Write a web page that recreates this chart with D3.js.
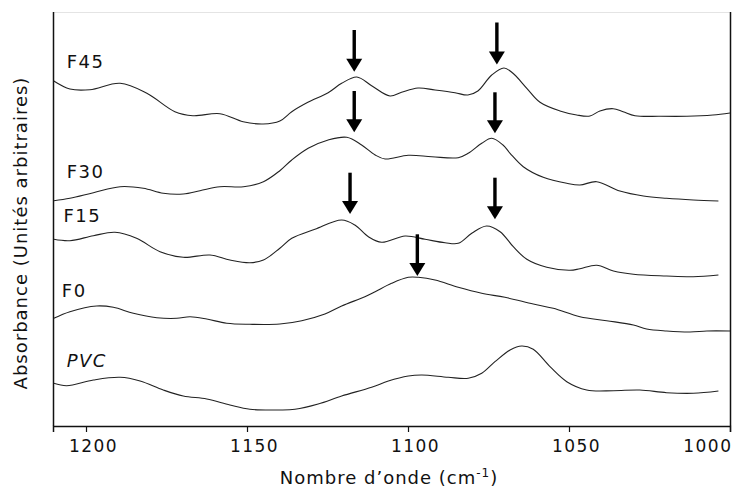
<!DOCTYPE html>
<html>
<head>
<meta charset="utf-8">
<script src="https://cdn.jsdelivr.net/npm/d3@7"></script>
<style>
  html, body { margin: 0; padding: 0; background: #fff; }
  svg { display: block; }
  text { font-family: "DejaVu Sans", sans-serif; fill: #111; }
</style>
</head>
<body>
<svg id="chart" width="736" height="491"></svg>
<script>
// FTIR spectra, stacked with vertical offsets (absorbance in arbitrary units)
const seriesNames = ["F45", "F30", "F15", "F0", "PVC"];

const wnF45 = [1210, 1205, 1198.8, 1189.4, 1181.1, 1172.4, 1166.8, 1158.4, 1151.2, 1145, 1139.8, 1136.1, 1131.1, 1124.8, 1120.6, 1115.9, 1111.3, 1105.6, 1102, 1096.9, 1091.6, 1085.4, 1081.4, 1078.3, 1074, 1070.2, 1067.4, 1063.1, 1059, 1052.8, 1047.6, 1043.5, 1040.4, 1036.3, 1033.2, 1029.5, 1021.7, 1013.4, 1005.3, 1000];
const absF45 = [345, 337, 336.3, 342.7, 332.7, 314.3, 310.3, 312.3, 304.3, 302, 305, 314.3, 323.7, 333.3, 342.7, 349, 340.3, 330, 333.7, 338, 336, 333.3, 331, 335, 351, 358, 352.7, 337.7, 323.7, 315, 311, 310, 315, 317.3, 314.3, 310.3, 309.7, 309.7, 311, 313];

const wnF30 = [1210, 1205, 1197.7, 1189.4, 1182.2, 1176, 1169.8, 1164.6, 1158.4, 1151.1, 1144.9, 1139.8, 1136.1, 1131, 1124.8, 1119, 1114.4, 1110.2, 1107.1, 1099.9, 1092.6, 1084.4, 1081.3, 1077.1, 1074, 1070.5, 1068.3, 1064.2, 1058, 1050.7, 1046.6, 1041.4, 1034.2, 1026.9, 1019.7, 1011.4, 1003.6];
const absF30 = [225.3, 227.7, 233.3, 239.3, 237.7, 232.7, 232, 235.3, 239.3, 239.3, 244.3, 255.3, 266, 277.7, 286, 288.7, 281, 271, 267, 270.7, 269.3, 268.3, 272.7, 282.7, 287.7, 281, 272.7, 259.3, 248.7, 242.7, 241, 244.3, 235, 230, 227.7, 226, 225];

const wnF15 = [1210, 1205, 1197.7, 1191, 1184.3, 1177, 1169.8, 1161.5, 1155.3, 1149.1, 1144.9, 1139.8, 1136.1, 1128.9, 1120.6, 1116.5, 1112.3, 1108.2, 1100.9, 1094.7, 1088.5, 1084.4, 1080.2, 1075.6, 1071.4, 1067.3, 1063.1, 1056.9, 1049.7, 1046.6, 1041.4, 1036.2, 1030, 1019.7, 1011.4, 1003.6];
const absF15 = [186.7, 185.3, 190.3, 193.7, 187.7, 174.3, 168.7, 171, 166, 163.3, 166, 177.7, 187.7, 196.7, 206, 201, 189.3, 183.7, 190, 186.7, 183.3, 182.7, 192.7, 200, 194.3, 179.3, 166.7, 158.7, 155.7, 157.3, 160.7, 155, 151.7, 150, 149.3, 151];

const wnF0 = [1210, 1205, 1196.7, 1191.5, 1185.3, 1178, 1171.8, 1167.7, 1162.5, 1156.3, 1149.1, 1139.8, 1133, 1125.8, 1120.6, 1113.4, 1110.2, 1105.1, 1099.9, 1096.8, 1091.6, 1084.4, 1077.1, 1069.9, 1061.1, 1054.9, 1046.6, 1038.3, 1030, 1025.9, 1019.7, 1012.4, 1007.2, 1000];
const absF0 = [107.7, 114.3, 120, 118.7, 112.7, 108.3, 107.7, 109.3, 107, 102.7, 101.7, 102, 105.3, 112, 120, 129.3, 134.3, 142.7, 148.7, 148.7, 146, 138.7, 132.7, 128.7, 122, 117.7, 109.3, 105.3, 101, 97, 95, 94, 95, 95];

const wnPVC = [1210, 1206, 1197.7, 1189.4, 1183.2, 1176, 1169.8, 1162.5, 1155.3, 1149.1, 1139.8, 1135.1, 1127.9, 1120.6, 1111.3, 1106.1, 1099.9, 1095.7, 1087.5, 1081.3, 1077.1, 1073, 1068.3, 1064.7, 1061.1, 1055.9, 1050.7, 1044.5, 1036.2, 1028, 1019.7, 1011.4, 1003.6];
const absPVC = [42.7, 40.3, 46, 48.7, 45, 36, 30, 27, 21, 16.7, 16, 16.7, 22, 30, 38.7, 45, 50, 51, 48.7, 47.7, 52.7, 64.3, 76, 80, 76.7, 59.3, 44.3, 36, 35.3, 36, 33.3, 32.7, 35];

// Spectrum label anchor points (wavenumber, absorbance)
const labelWn  = [1206, 1206, 1207, 1207.5, 1206];
const labelAbs = [357.7, 247.7, 204.3, 129.3, 59.3];

// Peak markers: wavenumber, arrow tip and tail (absorbance units)
const arrowWn   = [1116.7, 1072.4, 1116.7, 1073.0, 1118.0, 1073.0, 1097.1];
const arrowTip  = [354.3, 361.5, 293.7, 292.7, 212, 206.7, 150];
const arrowTail = [396, 403.5, 335, 333.7, 253.3, 248.3, 191.7];

const xTicks = [1200, 1150, 1100, 1050, 1000];

const spectra = [
  { name: seriesNames[0], wn: wnF45, abs: absF45 },
  { name: seriesNames[1], wn: wnF30, abs: absF30 },
  { name: seriesNames[2], wn: wnF15, abs: absF15 },
  { name: seriesNames[3], wn: wnF0,  abs: absF0 },
  { name: seriesNames[4], wn: wnPVC, abs: absPVC }
];

const margin = { left: 53, right: 6, top: 12, bottom: 65 };
const W = 736, H = 491;
const x0 = margin.left, x1 = W - margin.right;
const y0 = H - margin.bottom, y1 = margin.top;

const svg = d3.select("#chart");

const x = d3.scaleLinear().domain([1210.25, 1000]).range([x0, x1]);
const y = d3.scaleLinear().domain([0, 414]).range([y0, y1]);

// frame: light top edge, black sides
svg.append("line")
  .attr("x1", x0).attr("x2", x1).attr("y1", y1 + 0.5).attr("y2", y1 + 0.5)
  .attr("stroke", "#e4e4e4").attr("stroke-width", 1);
svg.append("line")
  .attr("x1", x1 + 0.5).attr("x2", x1 + 0.5).attr("y1", y1).attr("y2", y0)
  .attr("stroke", "#111").attr("stroke-width", 1.5);
svg.append("line")
  .attr("x1", x0 + 0.5).attr("x2", x0 + 0.5).attr("y1", y1).attr("y2", y0)
  .attr("stroke", "#111").attr("stroke-width", 1.5);

// bottom axis
const xAxis = d3.axisBottom(x).tickValues(xTicks).tickSize(6).tickPadding(8)
  .tickFormat(d3.format("d"));
const gx = svg.append("g").attr("transform", `translate(0,${y0})`).call(xAxis);
gx.select(".domain").attr("stroke", "#111").attr("stroke-width", 1.5);
gx.selectAll(".tick line").attr("stroke", "#111").attr("stroke-width", 1.2);
gx.selectAll(".tick text")
  .style("font-family", "'DejaVu Sans', sans-serif")
  .style("font-size", "17px").style("letter-spacing", "1.5px").attr("fill", "#111")
  .attr("dx", 7);
// last label sits flush against the right edge
gx.selectAll(".tick text").filter(d => d === 1000)
  .attr("text-anchor", "end").attr("dx", 2);

// spectra
const line = d3.line()
  .x(d => x(d[0])).y(d => y(d[1]))
  .curve(d3.curveCatmullRom.alpha(0.5));

svg.append("g").selectAll("path")
  .data(spectra)
  .join("path")
  .attr("d", s => line(s.wn.map((w, i) => [w, s.abs[i]])))
  .attr("fill", "none")
  .attr("stroke", "#222")
  .attr("stroke-width", 1.1);

// spectrum names
svg.append("g").selectAll("text")
  .data(spectra)
  .join("text")
  .attr("x", (s, i) => x(labelWn[i]))
  .attr("y", (s, i) => y(labelAbs[i]))
  .style("font-size", "18px")
  .style("letter-spacing", "1.5px")
  .style("font-style", s => s.name === "PVC" ? "italic" : "normal")
  .text(s => s.name);

// peak arrows
const headH = 13, headW = 16, shaftW = 3.4;
const arrows = svg.append("g");
arrowWn.forEach((w, i) => {
  const ax = x(w), tipY = y(arrowTip[i]), tailY = y(arrowTail[i]);
  arrows.append("rect")
    .attr("x", ax - shaftW / 2).attr("y", tailY)
    .attr("width", shaftW).attr("height", tipY - headH - tailY + 1)
    .attr("fill", "#000");
  arrows.append("path")
    .attr("d", `M${ax - headW / 2},${tipY - headH} L${ax + headW / 2},${tipY - headH} L${ax},${tipY} Z`)
    .attr("fill", "#000");
});

// axis titles
svg.append("text")
  .attr("x", 389).attr("y", 484)
  .attr("text-anchor", "middle")
  .style("font-size", "18px")
  .style("letter-spacing", "1px")
  .call(t => {
    t.append("tspan").text("Nombre d\u2019onde (cm");
    t.append("tspan").attr("dy", -7).style("font-size", "12px").text("-1");
    t.append("tspan").attr("dy", 7).text(")");
  });

svg.append("text")
  .attr("transform", `translate(27,${(y0 + y1) / 2 + 14}) rotate(-90)`)
  .attr("text-anchor", "middle")
  .style("font-size", "18px")
  .style("letter-spacing", "1px")
  .text("Absorbance (Unités arbitraires)");
</script>
</body>
</html>
